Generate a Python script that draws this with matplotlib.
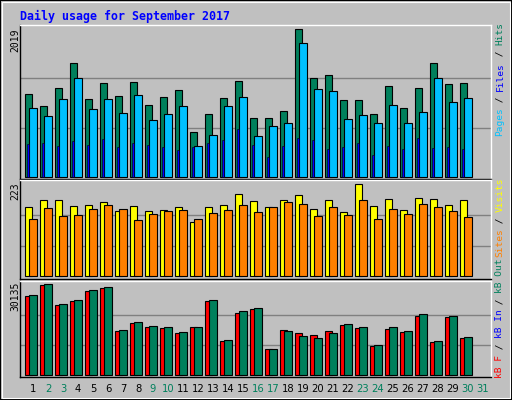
import matplotlib
matplotlib.use("Agg")
import matplotlib.pyplot as plt
from matplotlib.patches import Rectangle

days = list(range(1, 31))
day_labels = [str(d) for d in range(1, 32)]
weekend_days = [2, 3, 9, 10, 16, 17, 23, 24, 30, 31]

hits = [1128, 964, 1211, 1553, 1060, 1279, 1101, 1293, 978, 1087, 1183, 608, 854, 1074, 1306,
        799, 799, 895, 2019, 1348, 1389, 1046, 1046, 854, 1238, 936, 1211, 1553, 1265, 1279]
pages = [936, 827, 1060, 1348, 923, 1060, 868, 1115, 772, 854, 964, 416, 566, 964, 1087,
         553, 690, 731, 1827, 1197, 1169, 786, 840, 731, 978, 731, 882, 1348, 1019, 1074]
files = [443, 457, 420, 484, 429, 512, 402, 457, 429, 402, 361, 402, 457, 498, 649,
         429, 265, 416, 525, 498, 375, 402, 457, 292, 416, 375, 525, 388, 402, 375]
visits = [167, 184, 184, 170, 172, 179, 158, 170, 158, 160, 167, 131, 167, 172, 199,
          182, 167, 184, 196, 162, 184, 155, 223, 170, 187, 160, 189, 187, 172, 184]
sites = [138, 165, 145, 148, 162, 172, 162, 136, 150, 158, 160, 138, 153, 160, 172,
         155, 167, 179, 175, 145, 167, 148, 184, 138, 162, 150, 175, 167, 158, 143]
kb_f = [26165, 29808, 23184, 24509, 27821, 28814, 14573, 17222, 15898, 15566, 13910, 15898, 24509, 11261, 20534,
        21859, 8611, 14904, 13910, 13248, 14573, 16560, 15566, 9605, 15235, 14242, 19541, 10930, 19210, 12254]
kb_in = [0] * 30
kb_out = [26496, 30135, 23515, 24840, 28152, 29146, 14904, 17554, 16229, 15898, 14242, 15898, 24840, 11592, 21197,
          22190, 8611, 14573, 12917, 12254, 13910, 16891, 15898, 9936, 15898, 14573, 20203, 11261, 19541, 12586]

TEAL = "#00805c"; CYAN = "#00c0ff"; BLUE = "#0000ff"
YEL = "#ffff00"; ORA = "#ff8000"; RED = "#ff0000"
BG = "#c0c0c0"

W, H = 512, 400
fig = plt.figure(figsize=(5.12, 4.0), dpi=100, facecolor=BG)
fig.patches.append(Rectangle((0, 0), 1, 1, transform=fig.transFigure, fill=False,
                             edgecolor="black", linewidth=1.5))
fig.patches.append(Rectangle((2 / W, 2 / H), 1 - 4 / W, 1 - 4 / H, transform=fig.transFigure,
                             fill=False, edgecolor="white", linewidth=0.8))

def mkax(top, bottom):
    ax = fig.add_axes([20 / W, 1 - bottom / H, (491 - 20) / W, (bottom - top) / H])
    ax.set_facecolor(BG)
    ax.set_xlim(0.13, 31.53)
    ax.set_xticks([]); ax.set_yticks([])
    for s in ["left", "bottom"]:
        ax.spines[s].set_color("black")
    for s in ["top", "right"]:
        ax.spines[s].set_color("white")
    for s in ax.spines.values():
        s.set_linewidth(1)
    return ax

def setlim(ax, vmax, top_px, bottom_px, axtop, axbot):
    # baseline at bottom_px, vmax at top_px
    scale = vmax / (bottom_px - top_px)
    ax.set_ylim(-(axbot - bottom_px) * scale, vmax + (top_px - axtop) * scale)
    for f in (1 / 3, 2 / 3):
        ax.axhline(vmax * f, color="#808080", lw=1, zorder=0)

kw = dict(edgecolor="black", linewidth=0.8, align="edge", zorder=2)
left1 = [d - 0.53 for d in days]
left2 = [d - 0.27 for d in days]
left3 = [d - 0.40 for d in days]

ax1 = mkax(25, 179)
setlim(ax1, 2019, 29.3, 176.7, 25, 179)
ax1.bar(left1, hits, width=0.46, color=TEAL, **kw)
ax1.bar(left2, pages, width=0.54, color=CYAN, **kw)
ax1.bar(left3, files, width=0.15, color=BLUE, edgecolor="black", linewidth=0.4, align="edge", zorder=3)

ax2 = mkax(180, 279)
setlim(ax2, 223, 184.3, 276.3, 180, 279)
ax2.bar(left1, visits, width=0.46, color=YEL, **kw)
ax2.bar(left2, sites, width=0.54, color=ORA, **kw)

ax3 = mkax(281, 377)
setlim(ax3, 30135, 284.3, 375.3, 281, 377)
ax3.bar(left1, kb_f, width=0.46, color=RED, **kw)
ax3.bar(left2, kb_out, width=0.54, color=TEAL, **kw)

mono = "DejaVu Sans Mono"
fig.text(20 / W, 1 - 16 / H, "Daily usage for September 2017", color=BLUE, fontsize=8.4,
         fontweight="bold", family=mono, va="center", ha="left")

for lab, ytop in [("2019", 28), ("223", 182), ("30135", 282)]:
    fig.text(15 / W, 1 - ytop / H, lab, rotation=90, fontsize=7, family=mono,
             va="top", ha="center", color="black")

fs = 6.8
adv = 0.6 * fs * 100 / 72
def vlabel(segs, ybottom, x=500):
    y = ybottom
    for txt, col in segs:
        fig.text(x / W, 1 - y / H, txt, rotation=90, fontsize=fs, family=mono, color=col,
                 va="bottom", ha="center")
        y -= adv * len(txt)

vlabel([("Pages", CYAN), (" / ", "black"), ("Files", BLUE), (" / ", "black"), ("Hits", TEAL)], 136)
vlabel([("Sites", ORA), (" / ", "black"), ("Visits", YEL)], 257)
vlabel([("kB F", RED), (" / ", "black"), ("kB In", BLUE), (" / ", "black"), ("kB Out", TEAL)], 378)

for i, lab in enumerate(day_labels):
    d = i + 1
    col = TEAL if d in weekend_days else "black"
    fig.text((33 + 15 * i) / W, 1 - 389 / H, lab, fontsize=7.2, color=col,
             ha="center", va="center", family="DejaVu Sans")

fig.savefig("out.png", dpi=100, facecolor=BG)
